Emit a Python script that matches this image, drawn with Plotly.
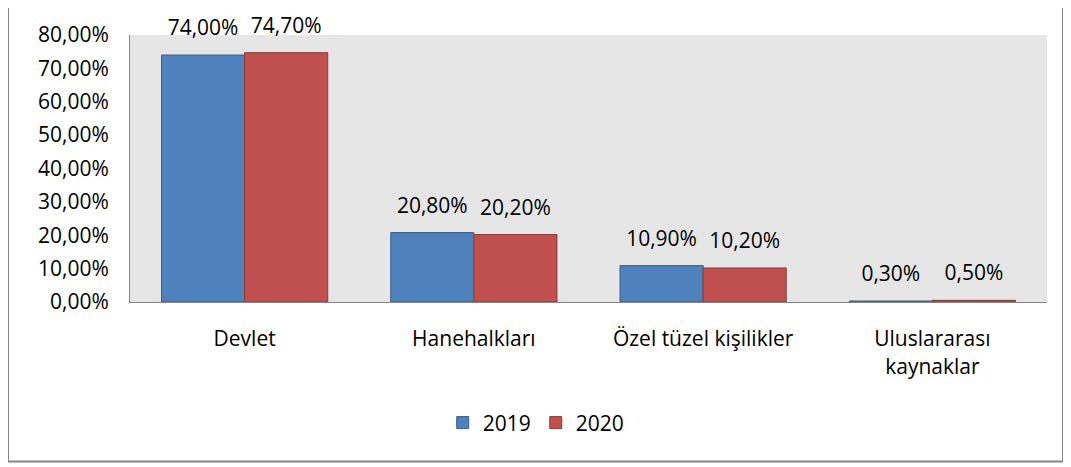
import plotly.graph_objects as go

categories = ["Devlet", "Hanehalkları", "Özel tüzel kişilikler", "Uluslararası<br>kaynaklar"]
values_2019 = [0.740, 0.208, 0.109, 0.003]
values_2020 = [0.747, 0.202, 0.102, 0.005]

FONT = "'Open Sans', 'Noto Sans', sans-serif"
FS = 21

series = [
    ("2019", values_2019, "#4f81bd", "#385d8a"),
    ("2020", values_2020, "#c0504d", "#8c3836"),
]

fig = go.Figure()
for name, vals, fill, edge in series:
    fig.add_trace(go.Bar(
        x=categories, y=vals, name=name,
        marker=dict(color=fill, line=dict(color=edge, width=1)),
    ))
# value labels: invisible markers push the text a bit above the bar tops
for name, vals, fill, edge in series:
    fig.add_trace(go.Scatter(
        x=categories, y=vals, mode="markers+text", showlegend=False,
        text=[f"{v * 100:.2f}%".replace(".", ",") for v in vals],
        textposition="top center", cliponaxis=False, hoverinfo="skip",
        marker=dict(size=22, opacity=0),
        textfont=dict(size=FS, color="black"),
    ))

# outer chart border (top edge is cropped in the reference)
fig.add_shape(type="rect", xref="paper", yref="paper",
              x0=-0.133, x1=1.0175, y0=-0.597, y1=1.3,
              line=dict(color="#868686", width=2), layer="below")

fig.update_layout(
    width=1063, height=459,
    margin=dict(l=122, r=24, t=20, b=165),
    paper_bgcolor="white", plot_bgcolor="#e6e6e6",
    separators=",.",
    barmode="group", bargap=0.275, bargroupgap=0,
    scattermode="group", scattergap=0.275,
    font=dict(family=FONT, size=FS, color="black"),
    showlegend=True,
    legend=dict(orientation="h", x=0.443, xanchor="center", y=-0.453, yanchor="middle",
                font=dict(size=FS), itemwidth=30, traceorder="normal"),
    xaxis=dict(showline=True, linecolor="#868686", linewidth=1, ticks="",
               tickfont=dict(size=FS), showgrid=False, ticklabelstandoff=18),
    yaxis=dict(range=[0, 0.8], dtick=0.1, tickformat=".2%", showgrid=False,
               showline=True, linecolor="#868686", linewidth=1, ticks="",
               tickfont=dict(size=FS), zeroline=False, ticklabelstandoff=16),
)

fig.write_html("out.html")
